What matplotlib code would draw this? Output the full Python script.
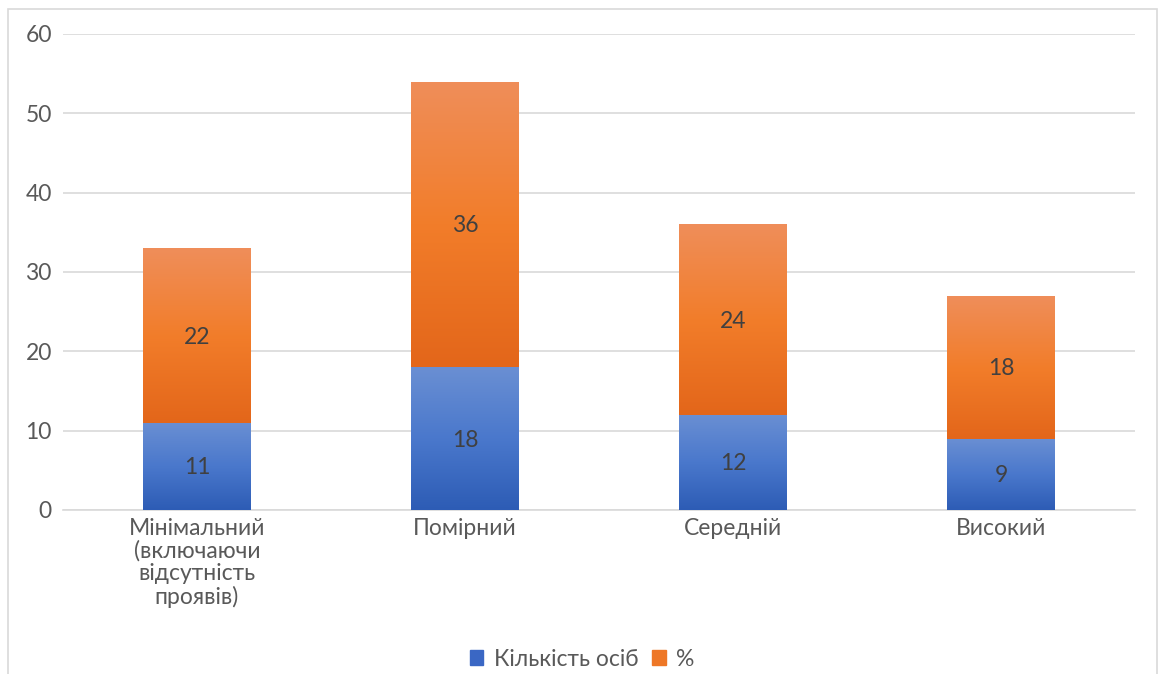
import numpy as np
import matplotlib
matplotlib.use("Agg")
import matplotlib.pyplot as plt
from matplotlib.patches import Rectangle
from matplotlib.colors import LinearSegmentedColormap

plt.rcParams['font.family'] = ['Lato', 'DejaVu Sans']

categories = ["Мінімальний\n(включаючи\nвідсутність\nпроявів)", "Помірний", "Середній", "Високий"]
count_people = [11, 18, 12, 9]
percent = [22, 36, 24, 18]
series_names = ["Кількість осіб", "%"]
yticks = [0, 10, 20, 30, 40, 50, 60]

FS = 16.5
W, H = 1159, 674
fig = plt.figure(figsize=(W / 100, H / 100), dpi=100)
ax = fig.add_axes([63 / W, 1 - 510 / H, (1135 - 63) / W, (510 - 34) / H])

# chart border
fig.patches.append(Rectangle((8 / W, -0.05), (1157 - 8) / W, 1.05 - 9 / H,
                             transform=fig.transFigure, fill=False,
                             edgecolor='#d9d9d9', linewidth=1.2))

x = np.arange(len(categories))
width = 0.40

blue_cmap = LinearSegmentedColormap.from_list('b', ['#2d5cb5', '#4a78cc', '#6a8fd3'])
orange_cmap = LinearSegmentedColormap.from_list('o', ['#e3661a', '#f27d2a', '#ef8e5a'])

grad = np.linspace(0, 1, 256).reshape(-1, 1)

def grad_bars(xs, heights, bottoms, cmap, color):
    bars = ax.bar(xs, heights, width, bottom=bottoms, color=color, zorder=2)
    for b in bars:
        x0, y0 = b.get_x(), b.get_y()
        w, h = b.get_width(), b.get_height()
        im = ax.imshow(grad, extent=(x0, x0 + w, y0, y0 + h), origin='lower',
                       cmap=cmap, aspect='auto', zorder=3)
        im.set_clip_path(b)
    return bars

b1 = grad_bars(x, count_people, [0] * len(x), blue_cmap, '#4472c4')
b2 = grad_bars(x, percent, count_people, orange_cmap, '#ed7d31')

for xi, c, p in zip(x, count_people, percent):
    ax.text(xi, c / 2 - 0.2, str(c), ha='center', va='center', fontsize=FS, color='#404040', zorder=5)
    ax.text(xi, c + p / 2 - 0.2, str(p), ha='center', va='center', fontsize=FS, color='#404040', zorder=5)

ax.set_xlim(-0.5, len(x) - 0.5)
ax.set_ylim(0, 60)
ax.set_yticks(yticks)
ax.set_xticks(x)
ax.set_xticklabels(categories, fontsize=FS, color='#595959', linespacing=1.07)
ax.tick_params(axis='y', labelsize=FS, labelcolor='#595959', length=0, pad=8)
ax.tick_params(axis='x', length=0, pad=6)
ax.grid(axis='y', color='#d9d9d9', linewidth=1.2, zorder=0)
ax.set_axisbelow(True)
for s in ['top', 'right', 'left']:
    ax.spines[s].set_visible(False)
ax.spines['bottom'].set_color('#d9d9d9')
ax.spines['bottom'].set_linewidth(1.2)

handles = [Rectangle((0, 0), 1, 1, color='#3a67c4'), Rectangle((0, 0), 1, 1, color='#ee7726')]
fig.legend(handles, series_names, loc='center', bbox_to_anchor=(582 / W, 1 - 659 / H),
           ncol=2, frameon=False, fontsize=FS, labelcolor='#595959',
           handlelength=0.6, handleheight=0.6, handletextpad=0.45, columnspacing=0.6)

fig.savefig('out.png', dpi=100)
